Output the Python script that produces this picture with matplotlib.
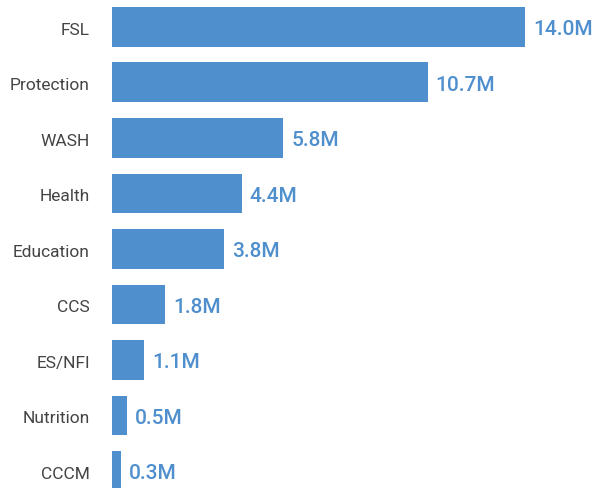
import matplotlib
matplotlib.use("Agg")
import matplotlib.pyplot as plt

categories = ["FSL", "Protection", "WASH", "Health", "Education", "CCS", "ES/NFI", "Nutrition", "CCCM"]
values = [14.0, 10.7, 5.8, 4.4, 3.8, 1.8, 1.1, 0.5, 0.3]
labels = ["14.0M", "10.7M", "5.8M", "4.4M", "3.8M", "1.8M", "1.1M", "0.5M", "0.3M"]

bar_color = "#4F8FCD"
plt.rcParams["font.family"] = ["Roboto", "DejaVu Sans"]

fig = plt.figure(figsize=(6.1, 4.88), dpi=100)
ax = fig.add_axes([112 / 610, 0, 498 / 610, 1])

pos = list(range(len(categories)))
ax.barh(pos, values, height=0.72, color=bar_color)
for p, v, t in zip(pos, values, labels):
    ax.text(v + 0.27, p + 0.05, t, va="center", ha="left", fontsize=15,
            color=bar_color, fontweight="medium")

ax.set_xlim(0, 16.88)
ax.set_ylim(8.306, -0.486)
ax.set_yticks([p + 0.03 for p in pos])
ax.set_yticklabels(categories, fontsize=12.5, color="#444444")
ax.tick_params(axis="y", length=0, pad=16)
ax.set_xticks([])
for s in ax.spines.values():
    s.set_visible(False)

fig.savefig("out.png", dpi=100)
